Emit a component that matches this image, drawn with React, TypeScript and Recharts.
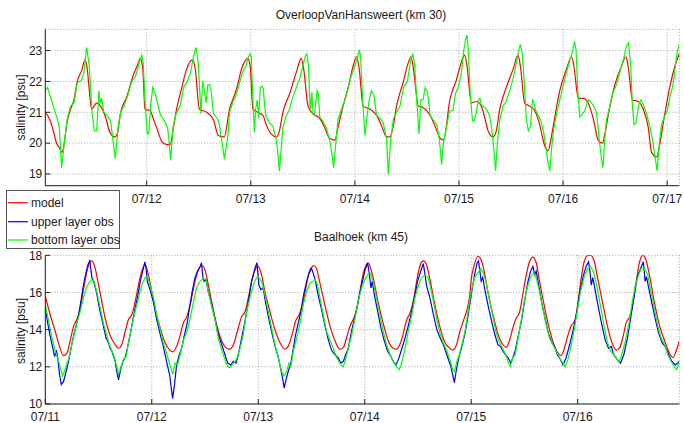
import { LineChart, Line, XAxis, YAxis, CartesianGrid } from 'recharts'

type Pt = [number, number]

const FONT = '"Liberation Sans", Arial, Helvetica, sans-serif'
const RED = '#ff0000'
const BLUE = '#0000ff'
const GREEN = '#00ff00'

// time axis: hours since 07/11 00:00
const dayLabels = ['07/11', '07/12', '07/13', '07/14', '07/15', '07/16', '07/17']
const topTicksX = [24, 48, 72, 96, 120, 144]
const bottomTicksX = [0, 24, 48, 72, 96, 120]
const topTicksY = [19, 20, 21, 22, 23]
const bottomTicksY = [10, 12, 14, 16, 18]

// OverloopVanHansweert (km 30)
const hansModel: Pt[] = [
  [0.62, 21.0], [1.7, 20.75], [2.46, 20.4], [3.2, 20.0], [3.85, 19.85], [4.46, 19.7], [5.0, 20.0], [5.54, 20.6],
  [6.46, 21.1], [7.23, 21.4], [8.0, 22.0], [9.0, 22.35], [9.77, 22.7], [10.3, 22.4], [10.77, 21.7], [11.3, 21.1],
  [12.46, 21.3], [13.6, 21.15], [14.6, 20.8], [15.5, 20.35], [16.7, 20.2], [17.2, 20.3], [18.0, 21.0], [19.4, 21.5],
  [20.9, 22.2], [22.1, 22.6], [22.5, 22.75], [23.1, 22.4], [23.6, 21.1], [24.8, 21.05], [25.5, 20.8], [26.3, 20.5],
  [27.5, 20.05], [28.6, 19.95], [29.4, 19.95], [30.15, 20.5], [30.9, 21.1], [32.1, 21.8], [33.2, 22.4], [34.6, 22.7],
  [35.2, 22.4], [36.15, 21.1], [37.85, 21.0], [39.4, 20.75], [40.5, 20.25], [41.85, 20.2], [43.1, 21.1], [44.6, 21.7],
  [46.1, 22.5], [47.3, 22.75], [47.85, 22.5], [48.5, 21.1], [49.6, 21.0], [50.8, 20.9], [51.55, 20.6], [52.7, 20.3],
  [53.9, 20.2], [54.6, 20.4], [55.4, 21.0], [56.95, 21.6], [58.5, 22.3], [59.65, 22.75], [60.2, 22.4], [61.2, 21.2],
  [62.35, 20.95], [63.9, 20.8], [65.05, 20.5], [66.2, 20.15], [67.4, 20.1], [68.1, 20.5], [68.9, 21.0], [70.45, 21.8],
  [71.6, 22.5], [72.4, 22.8], [73.0, 22.4], [73.9, 21.2], [75.5, 21.1], [77.0, 20.9], [78.2, 20.55], [79.3, 20.2],
  [80.1, 20.2], [80.9, 20.6], [81.6, 21.2], [83.2, 22.0], [84.3, 22.6], [84.95, 22.8], [85.5, 22.4], [86.65, 21.2],
  [87.8, 21.15], [89.35, 20.9], [90.5, 20.55], [91.7, 20.15], [92.45, 20.1], [93.9, 21.4], [95.4, 22.05], [96.5, 22.6],
  [97.3, 22.85], [97.85, 22.5], [98.85, 21.3], [100.0, 21.35], [101.15, 21.2], [101.9, 20.85], [102.7, 20.4], [103.85, 20.2],
  [104.6, 20.4], [105.4, 21.1], [106.9, 21.8], [108.5, 22.4], [109.6, 22.85], [110.15, 22.5], [111.15, 21.3], [112.3, 21.2],
  [113.5, 21.05], [114.6, 20.6], [115.8, 19.9], [116.55, 19.75], [117.3, 20.2], [118.1, 20.85], [119.25, 21.7], [120.8, 22.4],
  [121.95, 22.8], [122.5, 22.5], [123.5, 21.45], [124.65, 21.45], [125.8, 21.3], [126.95, 20.8], [128.1, 20.1], [129.1, 20.0],
  [129.65, 20.3], [130.4, 20.9], [131.95, 21.9], [133.5, 22.5], [134.5, 22.8], [135.0, 22.5], [136.0, 21.4], [137.3, 21.35],
  [138.5, 21.1], [139.65, 20.5], [140.4, 19.7], [141.6, 19.55], [142.2, 19.9], [143.1, 20.65], [144.65, 21.85], [145.8, 22.5],
  [146.8, 22.9],
]

const hansBottom: Pt[] = [
  [0.62, 21.7], [1.15, 21.8], [2.46, 21.2], [3.38, 20.8], [3.85, 20.5], [4.38, 19.2], [5.0, 20.0], [5.7, 20.8],
  [6.46, 21.2], [7.23, 21.3], [8.0, 21.95], [9.0, 22.05], [9.54, 22.3], [10.15, 23.1], [10.77, 22.5], [11.38, 21.0],
  [11.92, 20.4], [12.46, 20.4], [13.0, 21.7], [13.3, 21.3], [13.6, 21.45], [14.1, 21.0], [14.9, 20.9], [15.7, 20.7],
  [16.3, 20.0], [16.77, 19.5], [17.4, 20.5], [18.0, 21.0], [18.77, 21.2], [19.54, 21.5], [20.54, 22.0], [21.4, 22.15],
  [22.15, 22.55], [22.85, 22.85], [23.2, 22.6], [23.6, 21.4], [24.15, 20.3], [24.46, 20.3], [24.9, 21.2], [25.4, 21.8],
  [26.0, 21.6], [26.5, 21.3], [27.2, 20.9], [28.0, 20.75], [28.8, 20.5], [29.15, 20.1], [29.5, 19.45], [30.15, 20.6],
  [30.9, 21.0], [31.7, 21.2], [32.5, 21.8], [33.4, 22.0], [34.15, 22.3], [34.77, 22.8], [35.4, 23.1], [35.9, 22.6],
  [36.5, 20.95], [36.9, 22.0], [37.3, 21.7], [37.7, 21.3], [38.1, 21.9], [38.5, 21.9], [38.85, 21.7], [39.4, 20.95],
  [40.3, 20.8], [40.75, 20.6], [41.5, 19.9], [41.9, 19.5], [42.7, 20.2], [43.1, 21.0], [43.8, 21.3], [44.6, 21.55],
  [45.4, 21.95], [46.1, 22.3], [46.9, 22.5], [47.3, 22.75], [47.85, 22.9], [48.1, 22.8], [48.5, 21.4], [48.85, 20.35],
  [49.1, 21.1], [49.5, 21.4], [49.8, 20.8], [50.2, 21.8], [50.6, 21.85], [50.9, 21.75], [51.2, 21.2], [51.55, 20.85],
  [52.3, 20.65], [53.1, 20.55], [53.9, 20.1], [54.25, 19.65], [54.6, 19.1], [55.0, 19.8], [55.4, 20.5], [56.2, 20.9],
  [56.95, 21.1], [57.7, 21.5], [58.5, 21.8], [59.3, 22.1], [60.0, 22.5], [60.65, 22.85], [60.95, 22.9], [61.3, 22.5],
  [61.7, 21.1], [62.1, 21.65], [62.35, 20.95], [62.7, 20.95], [63.3, 21.7], [63.6, 21.6], [63.9, 20.85], [64.7, 20.7],
  [65.4, 20.5], [66.2, 20.1], [66.8, 19.55], [67.1, 19.2], [67.6, 20.0], [68.1, 20.75], [68.9, 21.1], [69.7, 21.4],
  [70.45, 21.8], [71.2, 22.2], [72.0, 22.5], [72.5, 22.75], [73.0, 23.0], [73.3, 22.85], [73.8, 21.4], [74.3, 20.25],
  [74.7, 20.75], [75.3, 21.4], [75.85, 21.7], [76.4, 21.55], [77.0, 20.9], [77.8, 20.8], [78.55, 20.65], [79.3, 20.15],
  [79.7, 19.0], [80.25, 20.1], [80.9, 20.8], [81.6, 21.0], [82.4, 21.2], [83.2, 21.8], [84.1, 22.0], [84.9, 22.7],
  [85.35, 22.9], [85.8, 22.5], [86.3, 21.3], [86.8, 20.3], [87.2, 21.4], [87.7, 21.4], [88.2, 21.8], [88.75, 21.65],
  [89.35, 20.9], [90.1, 20.75], [90.9, 20.6], [91.5, 20.1], [92.0, 19.3], [92.4, 20.0], [93.1, 20.5], [93.85, 21.05],
  [94.6, 21.05], [95.2, 21.6], [95.8, 21.8], [96.5, 22.2], [97.1, 23.0], [97.5, 23.35], [97.85, 23.5], [98.15, 23.0],
  [98.6, 21.6], [99.1, 20.75], [99.45, 20.7], [100.0, 21.0], [100.45, 21.4], [100.8, 21.45], [101.15, 21.25], [101.55, 21.2],
  [102.3, 21.1], [103.1, 20.9], [103.7, 20.3], [104.1, 19.7], [104.45, 19.1], [104.85, 20.0], [105.4, 20.75], [106.15, 21.2],
  [106.9, 21.35], [107.7, 21.7], [108.5, 22.1], [109.1, 22.5], [109.6, 22.9], [110.15, 23.2], [110.6, 22.9], [111.1, 21.85],
  [111.55, 20.75], [112.0, 20.4], [112.5, 20.55], [112.95, 21.4], [113.25, 21.35], [113.7, 21.05], [114.25, 20.9], [114.8, 20.75],
  [115.4, 20.45], [116.0, 19.9], [116.55, 19.35], [116.95, 19.1], [117.4, 19.9], [117.85, 20.45], [118.5, 20.95], [119.25, 21.4],
  [120.0, 21.85], [120.8, 22.3], [121.4, 22.6], [122.2, 23.0], [122.65, 23.3], [123.0, 23.0], [123.4, 21.7], [123.85, 20.85],
  [124.25, 20.9], [125.0, 21.05], [125.55, 21.3], [126.0, 21.4], [126.55, 21.3], [127.1, 21.2], [127.7, 21.0], [128.35, 20.1],
  [128.8, 19.55], [129.2, 19.2], [129.55, 20.0], [130.0, 20.75], [130.8, 21.2], [131.55, 21.65], [132.35, 21.9], [133.1, 22.3],
  [133.9, 22.7], [134.65, 23.15], [135.1, 23.25], [135.6, 22.5], [136.0, 21.2], [136.35, 20.6], [136.8, 20.65], [137.25, 21.05],
  [137.55, 21.3], [138.0, 21.4], [138.65, 21.2], [139.25, 20.95], [140.05, 20.5], [140.65, 20.1], [141.2, 19.55], [141.7, 19.1],
  [142.2, 20.0], [142.65, 20.55], [143.3, 20.85], [144.05, 21.05], [144.65, 21.5], [145.3, 21.85], [145.9, 22.5], [146.35, 23.0],
  [146.8, 23.2],
]

// Baalhoek (km 45)
const baalModel: Pt[] = [
  [0, 15.8], [1.1, 14.8], [2.25, 13.9], [3.2, 13.1], [4.1, 12.6], [4.9, 12.75], [5.6, 13.4], [6.4, 14.2],
  [7.1, 14.55], [7.9, 15.15], [8.6, 16.15], [9.4, 17.15], [10.1, 17.65], [10.5, 17.7], [11.25, 17.3], [12.0, 16.4],
  [12.75, 15.5], [13.5, 14.6], [14.6, 13.7], [15.75, 13.2], [16.5, 13.0], [17.25, 13.2], [18.0, 13.9], [18.75, 14.55],
  [19.5, 14.8], [20.25, 15.5], [21.0, 16.4], [21.75, 17.15], [22.5, 17.5], [23.25, 16.95], [24.0, 16.05], [24.75, 15.15],
  [25.9, 14.1], [27.0, 13.3], [28.1, 12.9], [28.7, 12.8], [29.6, 13.1], [30.4, 13.7], [31.1, 14.35], [31.9, 14.7],
  [32.8, 15.5], [33.75, 16.6], [34.7, 17.3], [35.3, 17.45], [36.0, 17.2], [36.75, 16.4], [37.5, 15.5], [38.6, 14.3],
  [39.75, 13.4], [40.9, 13.0], [41.6, 12.95], [42.4, 13.2], [43.5, 14.1], [44.25, 14.7], [45.0, 14.95], [45.75, 15.7],
  [46.5, 16.6], [47.25, 17.2], [48.0, 17.4], [48.75, 16.95], [49.5, 16.05], [50.6, 15.0], [51.75, 14.0], [52.9, 13.3],
  [54.0, 12.95], [54.75, 13.1], [55.7, 13.8], [56.4, 14.45], [57.2, 14.8], [57.9, 15.3], [58.7, 16.2], [59.4, 17.05],
  [60.2, 17.4], [60.55, 17.45], [61.1, 17.3], [61.9, 16.5], [63.0, 15.35], [64.15, 14.2], [65.3, 13.4], [66.4, 12.95],
  [67.2, 13.05], [67.9, 13.55], [68.7, 14.2], [69.4, 14.55], [70.2, 15.1], [70.9, 16.05], [71.7, 17.05], [72.4, 17.5],
  [72.8, 17.6], [73.2, 17.4], [73.9, 16.8], [75.0, 15.5], [76.2, 14.3], [77.3, 13.4], [78.4, 13.0], [79.2, 12.95],
  [79.9, 13.2], [80.7, 13.8], [81.4, 14.5], [82.2, 14.9], [82.9, 15.5], [83.7, 16.6], [84.4, 17.4], [85.2, 17.7],
  [85.9, 17.5], [86.7, 16.7], [87.8, 15.35], [89.0, 14.1], [90.1, 13.3], [91.2, 13.0], [91.8, 12.9], [92.7, 13.2],
  [93.45, 13.9], [94.2, 14.45], [94.95, 15.0], [95.7, 15.9], [96.0, 16.7], [96.6, 17.4], [97.5, 17.95], [98.25, 17.75],
  [99.0, 17.05], [99.75, 16.05], [100.9, 14.8], [102.0, 13.8], [103.1, 13.2], [103.9, 13.05], [104.6, 13.4], [105.4, 14.1],
  [106.1, 14.6], [106.9, 14.95], [107.6, 15.85], [108.4, 16.95], [109.15, 17.65], [109.9, 17.9], [110.65, 17.6], [111.4, 16.6],
  [112.5, 15.25], [113.65, 14.0], [114.8, 13.1], [115.7, 12.7], [116.3, 12.6], [117.0, 13.0], [117.8, 13.7], [118.5, 14.2],
  [119.3, 14.45], [120.0, 15.35], [120.8, 16.8], [121.5, 17.7], [122.3, 18.0], [122.9, 18.0], [123.65, 17.75], [124.55, 16.7],
  [125.7, 15.35], [126.8, 14.1], [127.9, 13.2], [128.7, 12.9], [129.4, 13.0], [130.2, 13.6], [130.9, 14.35], [131.7, 14.7],
  [132.4, 15.35], [133.2, 16.6], [133.9, 17.6], [134.7, 18.0], [135.4, 17.75], [136.2, 16.9], [137.3, 15.45], [138.45, 14.2],
  [139.6, 13.4], [140.65, 12.75], [141.45, 12.5], [142.2, 12.85], [142.9, 13.4],
]

const baalUpper: Pt[] = [
  [0, 15.2], [0.5, 14.4], [1.1, 13.65], [1.7, 13.0], [2.1, 12.55], [2.5, 12.9], [2.85, 12.4], [3.2, 11.6],
  [3.6, 11.05], [4.1, 11.2], [4.7, 11.75], [5.25, 12.3], [5.8, 13.0], [6.4, 13.7], [7.0, 14.25], [7.5, 14.8],
  [8.0, 15.5], [8.6, 16.4], [9.2, 17.1], [9.6, 17.5], [10.0, 17.7], [10.3, 17.2], [10.5, 16.8], [10.9, 16.6],
  [11.5, 16.05], [12.2, 15.15], [13.0, 14.3], [13.7, 13.55], [14.25, 13.3], [14.6, 13.0], [15.0, 12.85], [15.4, 12.55],
  [15.75, 12.3], [16.1, 11.75], [16.5, 11.3], [16.9, 11.75], [17.5, 12.3], [18.0, 12.5], [18.5, 13.0], [19.1, 13.7],
  [19.7, 14.45], [20.25, 15.15], [20.9, 15.9], [21.4, 16.6], [22.0, 17.2], [22.45, 17.65], [22.7, 17.3], [23.0, 16.6],
  [23.6, 16.15], [24.4, 15.45], [25.1, 14.55], [25.9, 13.75], [26.5, 13.2], [27.0, 12.65], [27.5, 12.1], [28.0, 11.6],
  [28.4, 10.85], [28.7, 10.3], [29.1, 11.0], [29.6, 12.1], [30.2, 12.65], [30.75, 13.0], [31.3, 13.65], [31.9, 14.25],
  [32.5, 15.15], [33.1, 16.05], [33.75, 16.8], [34.3, 17.15], [34.9, 17.4], [35.2, 17.6], [35.5, 16.85], [35.8, 16.6],
  [36.2, 16.7], [36.75, 16.05], [37.5, 15.35], [38.25, 14.55], [39.0, 13.75], [39.75, 13.2], [40.5, 12.65], [41.1, 12.2],
  [41.8, 12.1], [42.4, 12.3], [43.0, 12.2], [43.5, 12.65], [44.25, 13.55], [45.0, 14.45], [45.75, 15.5], [46.5, 16.6],
  [47.25, 17.3], [47.7, 17.6], [48.15, 16.4], [48.6, 16.15], [49.1, 16.25], [49.65, 15.45], [50.4, 14.55], [51.15, 13.75],
  [51.9, 13.0], [52.5, 12.55], [53.1, 11.85], [53.55, 11.3], [53.85, 10.85], [54.25, 11.3], [54.75, 11.75], [55.35, 12.2],
  [55.9, 13.0], [56.4, 13.7], [57.0, 14.35], [57.6, 14.95], [58.2, 15.85], [58.9, 16.6], [59.5, 17.05], [60.0, 17.3],
  [60.5, 16.95], [60.9, 16.6], [61.5, 15.85], [62.3, 15.05], [63.0, 14.25], [63.8, 13.45], [64.5, 12.9], [65.3, 12.65],
  [66.0, 12.5], [66.6, 12.2], [67.2, 12.3], [67.7, 12.65], [68.3, 13.0], [69.0, 13.9], [69.8, 14.7], [70.5, 15.5],
  [71.3, 16.4], [72.0, 17.15], [72.65, 17.6], [73.0, 17.05], [73.4, 16.25], [73.7, 16.6], [74.15, 15.9], [74.9, 15.0],
  [75.65, 14.1], [76.4, 13.4], [77.15, 12.85], [77.9, 12.55], [78.4, 12.3], [79.0, 12.1], [79.6, 12.4], [80.2, 12.85],
  [80.9, 13.4], [81.7, 14.1], [82.4, 14.8], [83.2, 15.7], [83.9, 16.6], [84.7, 17.2], [85.2, 17.55], [85.6, 16.95],
  [85.9, 16.4], [86.7, 15.7], [87.5, 14.8], [88.25, 14.0], [89.0, 13.55], [89.7, 13.2], [90.5, 12.65], [91.3, 12.1],
  [91.8, 11.6], [92.2, 11.15], [92.6, 11.75], [93.2, 12.5], [93.9, 13.1], [94.6, 13.8], [95.3, 14.8], [96.1, 16.0],
  [96.75, 16.95], [97.35, 17.6], [97.65, 17.7], [97.95, 17.15], [98.25, 16.6], [98.6, 16.8], [99.0, 16.25], [99.75, 15.35],
  [100.5, 14.55], [101.3, 13.75], [102.0, 13.2], [102.6, 13.1], [103.15, 12.85], [103.7, 12.65], [104.3, 12.5], [104.9, 12.2],
  [105.4, 12.5], [105.9, 12.85], [106.5, 13.55], [107.3, 14.45], [108.0, 15.5], [108.8, 16.6], [109.4, 17.15], [109.9, 17.4],
  [110.3, 16.95], [110.65, 17.15], [111.2, 16.4], [111.9, 15.45], [112.7, 14.55], [113.4, 13.8], [114.2, 13.3], [114.8, 13.1],
  [115.4, 12.65], [116.1, 12.4], [116.7, 12.1], [117.4, 12.5], [118.2, 13.2], [118.9, 13.9], [119.7, 14.8], [120.4, 15.9],
  [121.2, 16.85], [121.9, 17.4], [122.45, 17.65], [122.75, 17.15], [123.05, 16.4], [123.4, 16.8], [123.95, 16.1], [124.7, 15.15],
  [125.45, 14.25], [126.2, 13.45], [126.95, 13.0], [127.6, 13.1], [128.1, 12.65], [128.9, 12.4], [129.65, 12.2], [130.4, 12.65],
  [131.2, 13.55], [131.9, 14.55], [132.65, 15.7], [133.4, 16.8], [134.2, 17.3], [134.8, 17.65], [135.2, 16.6], [135.5, 16.85],
  [136.0, 16.25], [136.7, 15.45], [137.5, 14.55], [138.2, 13.85], [139.0, 13.3], [139.7, 13.1], [140.5, 12.65], [141.2, 12.3],
  [142.0, 12.1], [142.6, 12.2], [142.9, 12.3],
]

const baalBottom: Pt[] = [
  [0, 15.35], [0.75, 14.45], [1.5, 13.55], [2.25, 12.85], [3.0, 12.3], [3.5, 11.85], [3.9, 11.5], [4.3, 11.75],
  [4.9, 12.2], [5.25, 12.4], [5.8, 13.0], [6.4, 13.65], [7.1, 14.35], [7.9, 15.0], [8.6, 15.7], [9.4, 16.35],
  [10.1, 16.6], [10.5, 16.7], [11.0, 16.6], [11.6, 16.05], [12.4, 15.15], [13.1, 14.35], [13.9, 13.65], [14.6, 13.1],
  [15.4, 12.65], [16.0, 12.1], [16.5, 11.6], [17.0, 11.95], [17.6, 12.4], [18.2, 12.55], [18.75, 13.3], [19.5, 14.2],
  [20.25, 15.0], [21.0, 15.7], [21.75, 16.4], [22.5, 16.8], [23.0, 16.9], [23.6, 16.4], [24.4, 15.7], [25.1, 14.8],
  [25.9, 14.0], [26.6, 13.3], [27.4, 12.65], [28.1, 12.1], [28.7, 11.6], [29.25, 12.2], [29.8, 12.1], [30.4, 12.65],
  [31.1, 13.4], [31.9, 13.9], [32.6, 14.55], [33.4, 15.5], [34.1, 16.25], [34.9, 16.6], [35.6, 16.75], [36.2, 16.7],
  [36.75, 16.05], [37.5, 15.25], [38.25, 14.55], [39.0, 13.55], [39.75, 12.9], [40.5, 12.4], [41.1, 12.0], [41.6, 11.95],
  [42.4, 12.2], [43.1, 12.4], [43.9, 13.0], [44.6, 13.7], [45.4, 15.0], [46.1, 15.7], [46.9, 16.4], [47.6, 16.8],
  [48.0, 16.85], [48.75, 16.6], [49.5, 15.9], [50.25, 15.0], [51.0, 14.1], [51.75, 13.2], [52.5, 12.5], [53.25, 11.75],
  [53.85, 11.5], [54.4, 11.75], [54.9, 12.2], [55.35, 12.0], [55.9, 12.85], [56.65, 13.55], [57.4, 14.35], [58.15, 15.35],
  [58.9, 16.05], [59.65, 16.5], [60.4, 16.6], [60.8, 16.7], [61.4, 16.4], [61.9, 15.7], [62.65, 14.8], [63.4, 13.9],
  [64.15, 13.45], [64.9, 13.0], [65.65, 12.5], [66.4, 12.2], [67.15, 12.0], [67.7, 12.4], [68.3, 13.0], [69.0, 13.65],
  [69.8, 14.6], [70.5, 15.5], [71.3, 16.25], [72.0, 16.7], [72.8, 17.0], [73.2, 17.05], [73.9, 16.6], [74.65, 15.7],
  [75.4, 14.8], [76.2, 13.9], [76.9, 13.2], [77.7, 12.65], [78.4, 12.3], [79.2, 12.0], [79.8, 11.85], [80.3, 12.2],
  [81.1, 13.0], [81.8, 13.9], [82.6, 14.8], [83.3, 15.7], [84.1, 16.4], [84.8, 16.8], [85.5, 16.9], [86.2, 16.85],
  [86.7, 16.4], [87.5, 15.5], [88.25, 14.55], [89.0, 13.75], [89.7, 13.3], [90.5, 12.85], [91.3, 12.3], [91.8, 11.85],
  [92.2, 11.75], [92.8, 12.3], [93.3, 12.65], [93.9, 13.2], [94.6, 13.9], [95.3, 15.0], [96.05, 16.1], [96.75, 16.8],
  [97.5, 17.05], [98.1, 17.3], [98.7, 17.05], [99.3, 16.6], [100.05, 15.7], [100.8, 14.8], [101.55, 13.9], [102.3, 13.35],
  [103.05, 13.0], [103.8, 12.65], [104.4, 12.2], [104.8, 12.0], [105.4, 12.5], [105.9, 12.65], [106.5, 13.45], [107.3, 14.55],
  [108.0, 15.6], [108.8, 16.4], [109.5, 16.85], [110.1, 17.05], [110.65, 16.8], [111.4, 16.05], [112.15, 15.15], [112.9, 14.25],
  [113.65, 13.55], [114.4, 13.2], [115.15, 12.85], [115.9, 12.5], [116.65, 12.2], [117.2, 12.0], [117.8, 12.4], [118.4, 13.0],
  [119.15, 13.9], [119.9, 15.0], [120.65, 16.05], [121.4, 16.8], [122.15, 17.25], [122.9, 17.4], [123.65, 17.05], [124.4, 16.25],
  [125.15, 15.25], [125.9, 14.25], [126.65, 13.35], [127.4, 12.85], [128.15, 12.65], [128.9, 12.4], [129.4, 12.3], [129.95, 12.65],
  [130.7, 13.35], [131.5, 14.25], [132.2, 15.35], [133.0, 16.4], [133.75, 16.95], [134.3, 17.3], [135.0, 17.3], [135.8, 16.95],
  [136.5, 16.05], [137.3, 15.1], [138.05, 14.2], [138.8, 13.55], [139.6, 13.2], [140.3, 12.65], [141.05, 12.3], [141.8, 12.0],
  [142.3, 11.85], [142.7, 12.1], [142.9, 12.2],
]

const toRows = (pts: Pt[]) => pts.map(([t, v]) => ({ t, v }))

function XTick(props: any) {
  const { x, y, payload } = props
  return (
    <g>
      <line x1={x} x2={x} y1={y} y2={y - 5} stroke="#222" />
      <text x={x} y={y + 17} textAnchor="middle" fontSize={12} fontFamily={FONT} fill="#1a1a1a">
        {dayLabels[Math.round(payload.value / 24)]}
      </text>
    </g>
  )
}

function YTick(props: any) {
  const { x, y, payload } = props
  return (
    <g>
      <line x1={x} x2={x + 5} y1={y} y2={y} stroke="#222" />
      <text x={x - 3} y={y + 4.3} textAnchor="end" fontSize={12} fontFamily={FONT} fill="#1a1a1a">
        {payload.value}
      </text>
    </g>
  )
}

type Series = { name: string; pts: Pt[]; color: string; smooth?: boolean }

function Panel(p: {
  top: number
  height: number
  marginTop: number
  axisHeight: number
  xDomain: [number, number]
  xTicks: number[]
  yDomain: [number, number]
  yTicks: number[]
  series: Series[]
}) {
  return (
    <div style={{ position: 'absolute', left: 0, top: p.top }}>
      <LineChart width={684} height={p.height} margin={{ top: p.marginTop, right: 4.7, bottom: 0, left: 0 }}>
        <CartesianGrid stroke="#a0a0a0" strokeDasharray="1 2" />
        <XAxis
          dataKey="t"
          type="number"
          domain={p.xDomain}
          ticks={p.xTicks}
          interval={0}
          allowDataOverflow
          height={p.axisHeight}
          tickSize={0}
          tickMargin={0}
          tickLine={false}
          tick={(tp: any) => <XTick {...tp} />}
          axisLine={{ stroke: '#222' }}
        />
        <YAxis
          type="number"
          domain={p.yDomain}
          ticks={p.yTicks}
          interval={0}
          allowDataOverflow
          width={45.3}
          tickSize={0}
          tickMargin={0}
          tickLine={false}
          tick={(tp: any) => <YTick {...tp} />}
          axisLine={{ stroke: '#222' }}
        />
        {p.series.map((s) => (
          <Line
            key={s.name}
            name={s.name}
            data={toRows(s.pts)}
            dataKey="v"
            type={s.smooth ? 'monotone' : 'linear'}
            stroke={s.color}
            strokeWidth={1.2}
            dot={false}
            activeDot={false}
            isAnimationActive={false}
          />
        ))}
      </LineChart>
    </div>
  )
}

export default function App() {
  return (
    <div style={{ position: 'absolute', left: 0, top: 0, width: 684, height: 423, background: '#fff', fontFamily: FONT }}>
      <Panel
        top={0}
        height={206}
        marginTop={29.3}
        axisHeight={20.3}
        xDomain={[0.62, 146.8]}
        xTicks={topTicksX}
        yDomain={[18.62, 23.69]}
        yTicks={topTicksY}
        series={[
          { name: 'model', pts: hansModel, color: RED, smooth: true },
          { name: 'bottom layer obs', pts: hansBottom, color: GREEN },
        ]}
      />
      <Panel
        top={230}
        height={193}
        marginTop={25.3}
        axisHeight={19}
        xDomain={[0, 142.9]}
        xTicks={bottomTicksX}
        yDomain={[10, 18]}
        yTicks={bottomTicksY}
        series={[
          { name: 'model', pts: baalModel, color: RED, smooth: true },
          { name: 'upper layer obs', pts: baalUpper, color: BLUE },
          { name: 'bottom layer obs', pts: baalBottom, color: GREEN },
        ]}
      />
      <svg width={684} height={423} style={{ position: 'absolute', left: 0, top: 0, pointerEvents: 'none' }}>
        <g fontFamily={FONT} fontSize={12} fill="#1a1a1a">
          <text x={361} y={14.7} textAnchor="middle" dominantBaseline="central">OverloopVanHansweert (km 30)</text>
          <text x={361} y={236.7} textAnchor="middle" dominantBaseline="central">Baalhoek (km 45)</text>
          <text x={21} y={107.5} textAnchor="middle" dominantBaseline="central" transform="rotate(-90 21 107.5)">salinity [psu]</text>
          <text x={21} y={331} textAnchor="middle" dominantBaseline="central" transform="rotate(-90 21 331)">salinity [psu]</text>
        </g>
        <rect x={6.5} y={190.5} width={113} height={58} fill="#fff" stroke="#555" />
        {[
          { label: 'model', color: RED, y: 202.7 },
          { label: 'upper layer obs', color: BLUE, y: 221.7 },
          { label: 'bottom layer obs', color: GREEN, y: 240 },
        ].map((e) => (
          <g key={e.label}>
            <line x1={8} x2={28} y1={e.y} y2={e.y} stroke={e.color} strokeWidth={1.2} />
            <text x={31} y={e.y} dominantBaseline="central" fontFamily={FONT} fontSize={12} fill="#1a1a1a">{e.label}</text>
          </g>
        ))}
      </svg>
    </div>
  )
}
